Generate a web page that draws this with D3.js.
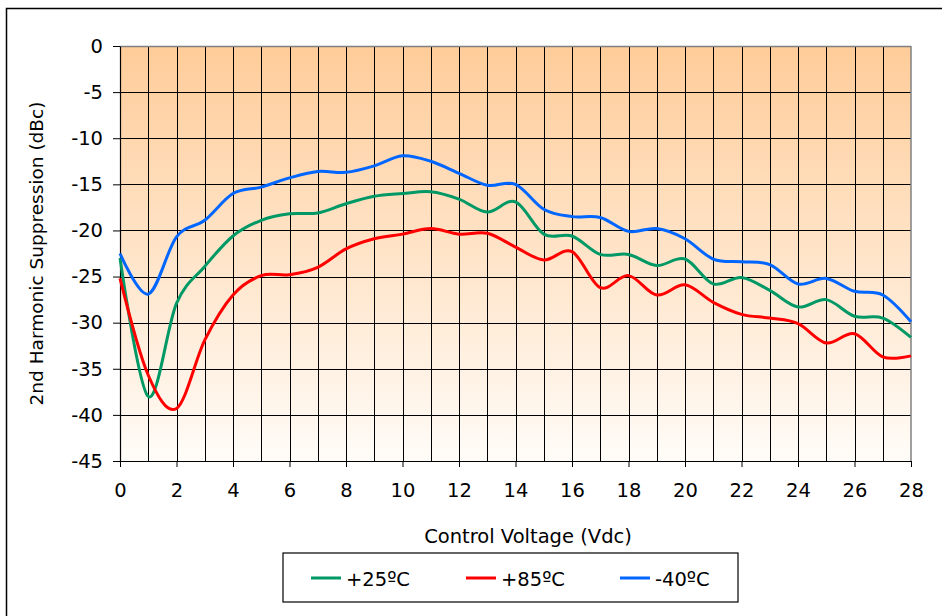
<!DOCTYPE html>
<meta charset="utf-8">
<style>
  body { margin: 0; background: #fff; }
  svg { font-family: "DejaVu Sans", Verdana, sans-serif; }
  .tick text { font-size: 19.5px; fill: #000; }
</style>
<body>
<div id="chart"></div>
<script src="https://cdn.jsdelivr.net/npm/d3@7"></script>
<script>
// control voltage (Vdc)
var voltage = d3.range(0, 29);

// 2nd harmonic suppression (dBc)
var t25 = [-23.0, -38.0, -27.9, -23.9, -20.6, -18.9, -18.2, -18.1, -17.1, -16.3,
           -16.0, -15.8, -16.6, -18.0, -16.9, -20.4, -20.6, -22.6, -22.6, -23.8,
           -23.1, -25.8, -25.1, -26.5, -28.3, -27.5, -29.3, -29.5, -31.6];
var t85 = [-25.2, -35.7, -39.3, -31.9, -27.0, -24.9, -24.8, -24.0, -22.0, -20.9,
           -20.4, -19.8, -20.4, -20.3, -21.8, -23.2, -22.3, -26.2, -24.9, -27.0,
           -25.9, -27.8, -29.1, -29.5, -30.1, -32.2, -31.2, -33.7, -33.6];
var tm40 = [-22.5, -26.9, -20.7, -18.9, -16.0, -15.3, -14.3, -13.6, -13.7, -13.0,
            -11.9, -12.5, -13.8, -15.1, -15.0, -17.7, -18.5, -18.6, -20.1, -19.8,
            -20.9, -23.1, -23.4, -23.7, -25.8, -25.2, -26.6, -27.0, -29.9];

var seriesNames = ["+25ºC", "+85ºC", "-40ºC"];
var seriesColors = ["#009966", "#FF0000", "#0066FF"];
var seriesData = [t25, t85, tm40];

var xTicks = d3.range(0, 29, 2);
var yTicks = d3.range(0, -46, -5);

var W = 942, H = 616;
var margin = {top: 46, right: 31, bottom: 155, left: 120};
var width = W - margin.left - margin.right;
var height = H - margin.top - margin.bottom;

var svg = d3.select("#chart").append("svg")
    .attr("width", W)
    .attr("height", H);

// outer chart border
svg.append("rect")
    .attr("x", 6.5).attr("y", 8.5)
    .attr("width", W + 10).attr("height", H + 10)
    .attr("fill", "none").attr("stroke", "#000").attr("stroke-width", 1.5);

var defs = svg.append("defs");
var grad = defs.append("linearGradient")
    .attr("id", "bg").attr("x1", 0).attr("y1", 0).attr("x2", 0).attr("y2", 1);
grad.append("stop").attr("offset", "0%").attr("stop-color", "#FFCC99");
grad.append("stop").attr("offset", "100%").attr("stop-color", "#FFFCF8");

var g = svg.append("g")
    .attr("transform", "translate(" + margin.left + "," + margin.top + ")");

var x = d3.scaleLinear().domain([0, 28]).range([0, width]);
var y = d3.scaleLinear().domain([-45, 0]).range([height, 0]);

g.append("rect")
    .attr("width", width).attr("height", height)
    .attr("fill", "url(#bg)");

// gridlines
g.append("g").selectAll("line")
    .data(voltage.slice(1, -1))
    .enter().append("line")
    .attr("x1", function(d) { return Math.round(x(d)) + 0.5; })
    .attr("x2", function(d) { return Math.round(x(d)) + 0.5; })
    .attr("y1", 0).attr("y2", height)
    .attr("stroke", "#000").attr("stroke-width", 1);

g.append("g").selectAll("line")
    .data(yTicks.slice(1, -1))
    .enter().append("line")
    .attr("x1", 0).attr("x2", width)
    .attr("y1", function(d) { return Math.round(y(d)) + 0.5; })
    .attr("y2", function(d) { return Math.round(y(d)) + 0.5; })
    .attr("stroke", "#000").attr("stroke-width", 1);

// plot frame (top/right grey)
g.append("line").attr("x1", 0).attr("x2", width).attr("y1", 0.5).attr("y2", 0.5)
    .attr("stroke", "#808080").attr("stroke-width", 1.5);
g.append("line").attr("x1", width).attr("x2", width).attr("y1", 0).attr("y2", height)
    .attr("stroke", "#808080").attr("stroke-width", 1.5);

// axes (plain hyphen for negatives, like the original)
var fmt = function(d) { return String(d); };
var xAxis = g.append("g")
    .attr("transform", "translate(0," + height + ")")
    .call(d3.axisBottom(x).tickValues(xTicks).tickFormat(fmt).tickSize(6).tickPadding(16).tickSizeOuter(0));
var yAxis = g.append("g")
    .call(d3.axisLeft(y).tickValues(yTicks).tickFormat(fmt).tickSize(7).tickPadding(10).tickSizeOuter(0));
[xAxis, yAxis].forEach(function(a) {
  a.selectAll("path, line").attr("stroke", "#000");
  a.select(".domain").attr("stroke-width", 1.2);
  a.attr("font-family", null).attr("font-size", null);
});

// series
var line = d3.line()
    .x(function(d, i) { return x(voltage[i]); })
    .y(function(d) { return y(d); })
    .curve(d3.curveCardinal.tension(0));

seriesData.forEach(function(s, i) {
  g.append("path")
      .datum(s)
      .attr("d", line)
      .attr("fill", "none")
      .attr("stroke", seriesColors[i])
      .attr("stroke-width", 3)
      .attr("stroke-linejoin", "round");
});

// axis titles
svg.append("text")
    .attr("transform", "translate(43," + (margin.top + height / 2) + ") rotate(-90)")
    .attr("text-anchor", "middle")
    .attr("font-size", 18.5)
    .text("2nd Harmonic Suppression (dBc)");

svg.append("text")
    .attr("x", 528).attr("y", 543)
    .attr("text-anchor", "middle")
    .attr("font-size", 19.5)
    .text("Control Voltage (Vdc)");

// legend
var legend = svg.append("g").attr("transform", "translate(283,553)");
legend.append("rect")
    .attr("width", 455).attr("height", 49)
    .attr("fill", "#fff").attr("stroke", "#000").attr("stroke-width", 1.2);
var legendX = [28, 183, 337];
seriesNames.forEach(function(name, i) {
  legend.append("line")
      .attr("x1", legendX[i]).attr("x2", legendX[i] + 30)
      .attr("y1", 25).attr("y2", 25)
      .attr("stroke", seriesColors[i]).attr("stroke-width", 3);
  legend.append("text")
      .attr("x", legendX[i] + 35).attr("y", 33)
      .attr("font-size", 19.5)
      .text(name);
});
</script>
</body>
